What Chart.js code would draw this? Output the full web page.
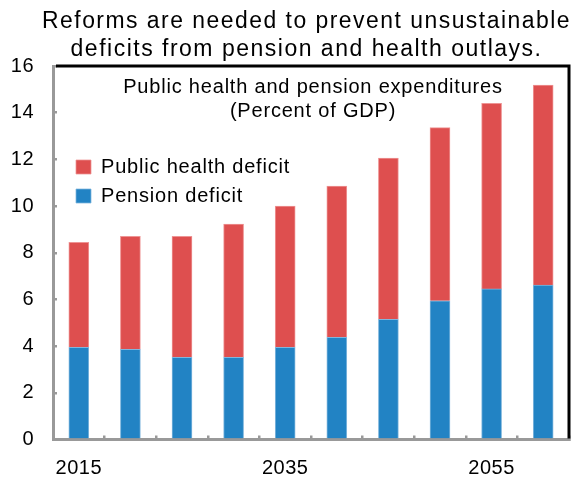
<!DOCTYPE html>
<html>
<head>
<meta charset="utf-8">
<script src="https://cdn.jsdelivr.net/npm/chart.js@4"></script>
<style>
  body { margin: 0; background: #fff; }
  #box { width: 576px; height: 478px; }
</style>
</head>
<body>
<div id="box"><canvas id="graficoDeficit" width="576" height="478"></canvas></div>
<script>
// DADOS
const anos = ['2015', '2020', '2025', '2030', '2035', '2040', '2045', '2050', '2055', '2060'];
const pensao = [3.95, 3.86, 3.52, 3.52, 3.95, 4.38, 5.15, 5.94, 6.45, 6.61];
const saude = [4.50, 4.84, 5.18, 5.71, 6.05, 6.48, 6.91, 7.42, 7.95, 8.57];
const anosComRotulo = ['2015', '2035', '2055'];
const titulo = ['Reforms are needed to prevent unsustainable', 'deficits from pension and health outlays.'];
const subtitulo = ['Public health and pension expenditures', '(Percent of GDP)'];

const fonte = '"Liberation Sans", Arial, sans-serif';
Chart.defaults.font.family = fonte;
Chart.defaults.color = '#000';

// troca o espacamento entre letras so enquanto a caixa desenha
function embrulha(caixa, valor) {
  if (!caixa || caixa._embrulhado) return;
  const desenho = caixa.draw.bind(caixa);
  caixa.draw = function (area) {
    const ctx = caixa.ctx;
    const antes = ctx.letterSpacing;
    ctx.letterSpacing = valor;
    desenho(area);
    ctx.letterSpacing = antes;
  };
  caixa._embrulhado = true;
}

// moldura preta em cima e na direita, texto dentro do grafico
const moldura = {
  id: 'moldura',
  afterLayout(chart) {
    const area = chart.chartArea;
    const leg = chart.legend;
    leg.left = area.left + 14;
    leg.top = area.top + 82;
    leg.right = area.right;
    leg.bottom = area.bottom;
    const tit = chart.titleBlock;
    tit.left = 42;
    tit.right = area.right + 2;
  },
  beforeDraw(chart) {
    chart.ctx.letterSpacing = '0.5px';
    embrulha(chart.titleBlock, '1.5px');
    embrulha(chart.legend, '0.8px');
  },
  afterDraw(chart) {
    const { ctx, chartArea } = chart;
    ctx.save();
    ctx.strokeStyle = '#000';
    ctx.lineWidth = 3;
    ctx.beginPath();
    ctx.moveTo(chartArea.left + 3, chartArea.top);
    ctx.lineTo(chartArea.right, chartArea.top);
    ctx.lineTo(chartArea.right, chartArea.bottom - 1);
    ctx.stroke();

    ctx.fillStyle = '#000';
    ctx.font = '20px ' + fonte;
    ctx.letterSpacing = '0.8px';
    ctx.textAlign = 'center';
    ctx.textBaseline = 'alphabetic';
    const meio = (chartArea.left + chartArea.right) / 2 + 2;
    ctx.fillText(subtitulo[0], meio, chartArea.top + 27);
    ctx.fillText(subtitulo[1], meio, chartArea.top + 51);
    ctx.restore();
  }
};

// GRAFICO DEFICIT
const graficoDeficit = document.getElementById('graficoDeficit');
const graficoParaDeficit = new Chart(graficoDeficit, {
  type: 'bar',
  data: {
    labels: anos,
    datasets: [{
      label: 'Pension deficit',
      data: pensao,
      backgroundColor: '#2283C4',
      borderColor: '#7FB6DD',
      borderWidth: { left: 1, right: 1, top: 1 },
      barThickness: 20
    }, {
      label: 'Public health deficit',
      data: saude,
      backgroundColor: '#DE4F4F',
      borderColor: '#EE9494',
      borderWidth: { left: 1, right: 1, top: 1 },
      barThickness: 20
    }]
  },
  options: {
    responsive: false,
    animation: false,
    layout: { padding: { left: 8, right: 7, top: 4, bottom: 0 } },
    plugins: {
      title: {
        display: true,
        text: titulo,
        font: { size: 23, weight: 'normal', lineHeight: 28 / 23 },
        padding: { top: 3.5, bottom: 2.5 }
      },
      legend: {
        position: 'chartArea',
        align: 'start',
        reverse: true,
        labels: {
          boxWidth: 15,
          boxHeight: 14,
          padding: 9,
          font: { size: 20 }
        }
      },
      tooltip: { enabled: false }
    },
    scales: {
      x: {
        stacked: true,
        grid: { drawOnChartArea: false, color: '#999', lineWidth: 2.5, tickLength: -4, offset: true },
        border: { color: '#999', width: 3 },
        ticks: {
          autoSkip: false,
          maxRotation: 0,
          padding: 21,
          font: { size: 20 },
          callback: function (valor, i) {
            const ano = anos[i];
            return anosComRotulo.includes(ano) ? ano : '';
          }
        },
        afterFit: function (escala) { escala.height = 38.5; }
      },
      y: {
        stacked: true,
        min: 0,
        max: 16,
        grid: { drawOnChartArea: false, color: '#999', lineWidth: 2.5, tickLength: -4 },
        border: { color: '#999', width: 3 },
        ticks: { stepSize: 2, padding: 23, font: { size: 20 } },
        afterFit: function (escala) { escala.width = 45; }
      }
    }
  },
  plugins: [moldura]
});
</script>
</body>
</html>
